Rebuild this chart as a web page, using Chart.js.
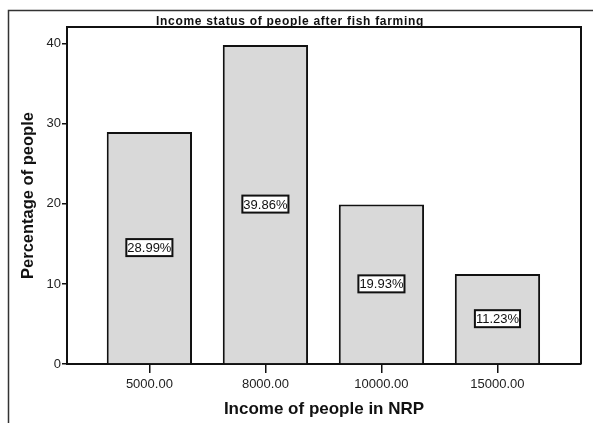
<!DOCTYPE html>
<html>
<head>
<meta charset="utf-8">
<script src="https://cdn.jsdelivr.net/npm/chart.js@4"></script>
<style>
  html, body { margin: 0; padding: 0; background: #fff; }
  #wrap { width: 593px; height: 423px; }
</style>
</head>
<body>
<div id="wrap"><canvas id="incomeChart" width="593" height="423"></canvas></div>
<script>
const chartTitle = "Income status of people after fish farming";
const categories = ["5000.00", "8000.00", "10000.00", "15000.00"];
const percentValues = [28.99, 39.86, 19.93, 11.23];
const yTicks = [0, 10, 20, 30, 40];
const xTitle = "Income of people in NRP";
const yTitle = "Percentage of people";

// frame lines (top/right of plot) + partial outer border + title
const framePlugin = {
    id: "frame",
    beforeDraw(chart) {
        const ctx = chart.ctx;
        ctx.save();
        ctx.strokeStyle = "#333";
        ctx.lineWidth = 1.5;
        ctx.beginPath();
        ctx.moveTo(8.5, 423);
        ctx.lineTo(8.5, 10.5);
        ctx.lineTo(593, 10.5);
        ctx.stroke();
        ctx.restore();
    },
    afterDraw(chart) {
        const a = chart.chartArea;
        const ctx = chart.ctx;
        ctx.save();
        ctx.strokeStyle = "#111";
        ctx.lineWidth = 2;
        ctx.beginPath();
        ctx.moveTo(a.left, a.top);
        ctx.lineTo(a.right, a.top);
        ctx.lineTo(a.right, a.bottom);
        ctx.stroke();
        ctx.font = "bold 12px 'Liberation Sans', Arial, sans-serif";
        ctx.letterSpacing = "0.7px";
        ctx.fillStyle = "#111";
        ctx.textAlign = "center";
        ctx.textBaseline = "alphabetic";
        ctx.fillText(chartTitle, 290, 25);
        ctx.restore();
    }
};

// boxed percentage labels in the middle of each bar
const boxLabels = {
    id: "boxLabels",
    afterDatasetsDraw(chart) {
        const ctx = chart.ctx;
        const meta = chart.getDatasetMeta(0);
        ctx.save();
        ctx.font = "13px 'Liberation Sans', Arial, sans-serif";
        ctx.textAlign = "center";
        ctx.textBaseline = "middle";
        meta.data.forEach((bar, i) => {
            const txt = percentValues[i].toFixed(2) + "%";
            const w = ctx.measureText(txt).width + 2;
            const h = 17;
            const cx = bar.x;
            const cy = (bar.y + bar.base) / 2;
            ctx.fillStyle = "#fff";
            ctx.fillRect(cx - w / 2, cy - h / 2, w, h);
            ctx.strokeStyle = "#111";
            ctx.lineWidth = 2;
            ctx.strokeRect(cx - w / 2, cy - h / 2, w, h);
            ctx.fillStyle = "#111";
            ctx.fillText(txt, cx, cy + 1);
        });
        ctx.restore();
    }
};

new Chart(document.getElementById("incomeChart"), {
    type: "bar",
    data: {
        datasets: [{
            data: percentValues.map((v, i) => ({ x: i, y: v })),
            backgroundColor: "#d9d9d9",
            borderColor: "#111",
            borderWidth: 2,
            categoryPercentage: 1,
            barPercentage: 0.735
        }]
    },
    options: {
        responsive: false,
        animation: false,
        layout: { padding: { top: 27, right: 12, left: 0, bottom: 0 } },
        plugins: {
            legend: { display: false },
            tooltip: { enabled: false }
        },
        scales: {
            x: {
                type: "linear",
                offset: false,
                min: -0.71,
                max: 3.72,
                afterFit: s => { s.height = 59; },
                afterBuildTicks: s => { s.ticks = categories.map((_, i) => ({ value: i })); },
                grid: { offset: false, drawOnChartArea: false, color: "#111", tickLength: 9, lineWidth: 1.5 },
                border: { color: "#111", width: 2 },
                ticks: {
                    callback: v => categories[v] || "",
                    color: "#222",
                    padding: 4,
                    maxRotation: 0,
                    font: { size: 13, family: "'Liberation Sans', Arial, sans-serif" }
                },
                title: {
                    display: true,
                    text: xTitle,
                    color: "#111",
                    padding: { top: 0, bottom: 3 },
                    font: { size: 17, weight: "bold", family: "'Liberation Sans', Arial, sans-serif" }
                }
            },
            y: {
                min: 0,
                max: 42.1,
                afterFit: s => { s.width = 67; },
                afterBuildTicks: s => { s.ticks = yTicks.map(v => ({ value: v })); },
                grid: { drawOnChartArea: false, color: "#111", tickLength: 5, lineWidth: 1.5 },
                border: { color: "#111", width: 2 },
                ticks: {
                    color: "#222",
                    padding: 1,
                    font: { size: 13, family: "'Liberation Sans', Arial, sans-serif" }
                },
                title: {
                    display: true,
                    text: yTitle,
                    color: "#111",
                    padding: { top: 19, bottom: 0 },
                    font: { size: 16.5, weight: "bold", family: "'Liberation Sans', Arial, sans-serif" }
                }
            }
        }
    },
    plugins: [framePlugin, boxLabels]
});
</script>
</body>
</html>
